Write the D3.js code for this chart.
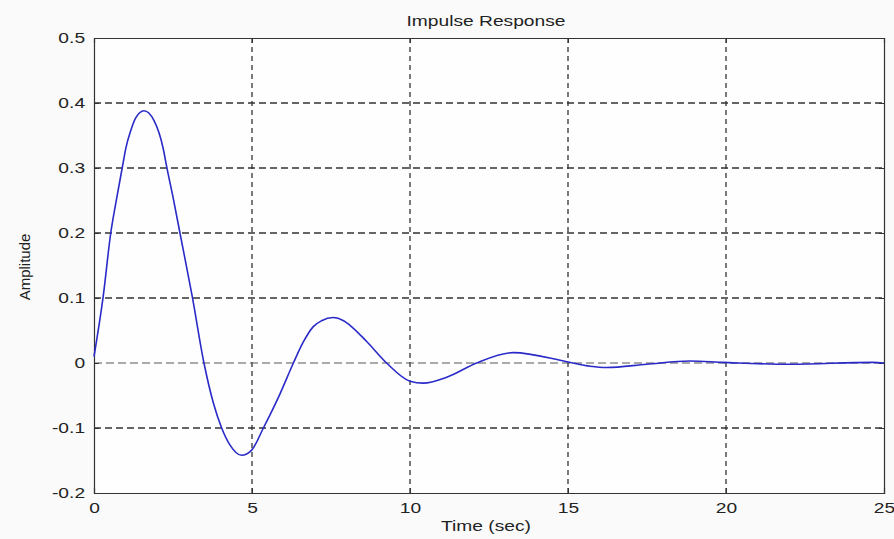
<!DOCTYPE html>
<html><head><meta charset="utf-8">
<script src="https://cdn.jsdelivr.net/npm/d3@7"></script>
<style>
html,body{margin:0;padding:0;background:#fafafa;}
svg{display:block;}
text{font-family:"Liberation Sans",Arial,sans-serif;fill:#222;}
</style></head>
<body>
<svg id="chart" width="894" height="539"></svg>
<script>
const timeValues = [0, 0.29, 0.53, 0.69, 0.9, 1.01, 1.16, 1.32, 1.58, 1.9, 2.19, 2.30, 2.53, 2.72, 3.11, 3.48, 3.78, 4.04, 4.30, 4.67, 4.99, 5.36, 5.89, 6.31, 6.62, 6.94, 7.2, 7.57, 7.9, 8.1, 8.63, 9.26, 10.0, 10.42, 11.16, 12.11, 13.27, 14.96, 15.7, 16.22, 17.49, 18.86, 19.9, 22.03, 24.65, 25];
const amplitudeValues = [0.01, 0.102, 0.2, 0.246, 0.302, 0.331, 0.357, 0.377, 0.388, 0.373, 0.33, 0.302, 0.248, 0.2, 0.102, 0.0, -0.062, -0.1, -0.126, -0.142, -0.134, -0.1, -0.047, 0.0, 0.032, 0.056, 0.065, 0.07, 0.065, 0.058, 0.033, 0.0, -0.028, -0.031, -0.022, 0.0, 0.016, 0.002, -0.005, -0.007, -0.002, 0.003, 0.001, -0.002, 0.001, 0.0];
const xTicks = [0, 5, 10, 15, 20, 25];
const yTicks = [-0.2, -0.1, 0, 0.1, 0.2, 0.3, 0.4, 0.5];
const titleText = "Impulse Response";
const xLabelText = "Time (sec)";
const yLabelText = "Amplitude";

const svg = d3.select("#chart");
const L = 94, R = 884, T = 38, B = 493;
const SX = 1.28;
const x = d3.scaleLinear().domain([0, 25]).range([L, R]);
const y = d3.scaleLinear().domain([-0.2, 0.5]).range([B, T]);

svg.append("rect").attr("x", L).attr("y", T).attr("width", R - L).attr("height", B - T).attr("fill", "#fefefe");

// grid
const g = svg.append("g");
g.selectAll(".vg").data(xTicks.filter(d => d > 0 && d < 25)).join("line")
  .attr("x1", d => x(d)).attr("x2", d => x(d)).attr("y1", T).attr("y2", B)
  .attr("stroke", "#333").attr("stroke-width", 1.3).attr("stroke-dasharray", "5,4");
g.selectAll(".hg").data(yTicks.filter(d => d > -0.2 && d < 0.5)).join("line")
  .attr("x1", L).attr("x2", R).attr("y1", d => y(d)).attr("y2", d => y(d))
  .attr("stroke", d => d === 0 ? "#555" : "#333")
  .attr("stroke-width", d => d === 0 ? 1 : 1.3)
  .attr("stroke-dasharray", d => d === 0 ? "8,4" : "7,4");

// axes
const fmtY = d => d === 0 ? "0" : d3.format(".1f")(d).replace("\u2212", "-");
const xAxis = d3.axisBottom(x).tickValues(xTicks).tickSize(-5).tickPadding(9).tickFormat(d3.format("d"));
const yAxis = d3.axisLeft(y).tickValues(yTicks).tickSize(-5).tickPadding(7).tickFormat(fmtY);
svg.append("g").attr("transform", `translate(0,${B})`).call(xAxis);
svg.append("g").attr("transform", `translate(${L},0)`).call(yAxis);
svg.append("g").attr("transform", `translate(0,${T})`).call(d3.axisTop(x).tickValues(xTicks).tickSize(-5).tickFormat(""));
svg.append("g").attr("transform", `translate(${R},0)`).call(d3.axisRight(y).tickValues(yTicks).tickSize(-5).tickFormat(""));
svg.selectAll(".domain").attr("stroke", "#333").attr("stroke-width", 1.2);
svg.selectAll(".tick line").attr("stroke", "#333");
svg.selectAll(".tick text").attr("font-size", 15).attr("fill", "#222")
  .style("font-family", "'Liberation Sans',Arial,sans-serif")
  .attr("transform", `scale(${SX},1)`);

// line
const line = d3.line().x((d, i) => x(timeValues[i])).y(d => y(d)).curve(d3.curveMonotoneX);
svg.append("path").datum(amplitudeValues).attr("d", line)
  .attr("fill", "none").attr("stroke", "#2a2ac8").attr("stroke-width", 1.6);

// labels
svg.append("text").attr("transform", `translate(${(L + R) / 2 - 3},26) scale(${SX},1)`).attr("text-anchor", "middle").attr("font-size", 15).text(titleText);
svg.append("text").attr("transform", `translate(${(L + R) / 2 - 3},531) scale(${SX},1)`).attr("text-anchor", "middle").attr("font-size", 15).text(xLabelText);
svg.append("text").attr("transform", `translate(30,267) rotate(-90)`).attr("text-anchor", "middle").attr("font-size", 15).text(yLabelText);
</script>
</body></html>
